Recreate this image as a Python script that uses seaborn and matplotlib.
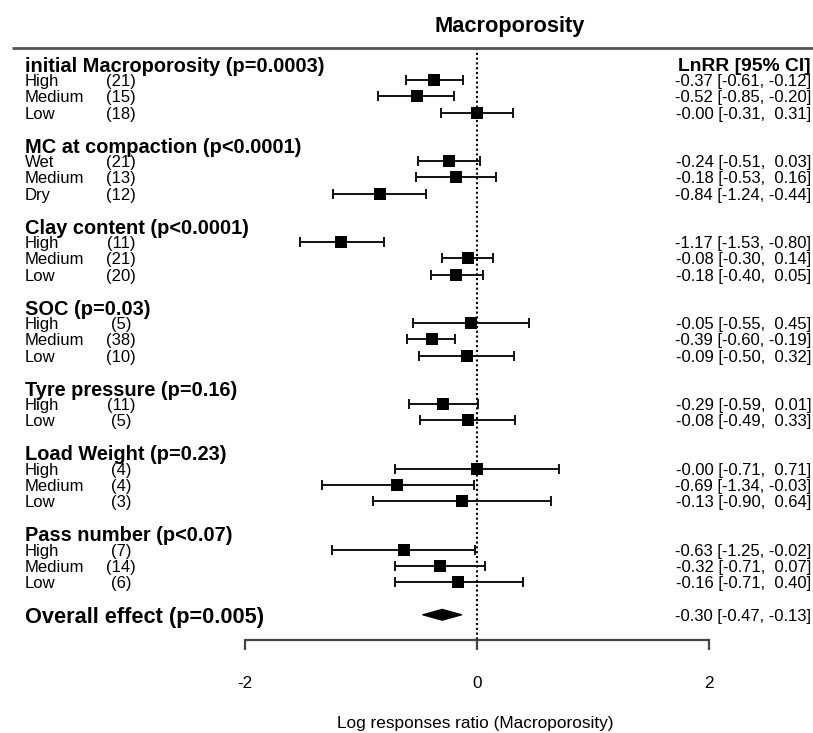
import numpy as np
import pandas as pd
import matplotlib
matplotlib.use("Agg")
import matplotlib.pyplot as plt
import seaborn as sns

# ---- data -------------------------------------------------------------
groups = ["initial Macroporosity", "MC at compaction", "Clay content", "SOC",
          "Tyre pressure", "Load Weight", "Pass number"]
group_p = ["p=0.0003", "p<0.0001", "p<0.0001", "p=0.03", "p=0.16", "p=0.23", "p<0.07"]

levels = [["High", "Medium", "Low"],
          ["Wet", "Medium", "Dry"],
          ["High", "Medium", "Low"],
          ["High", "Medium", "Low"],
          ["High", "Low"],
          ["High", "Medium", "Low"],
          ["High", "Medium", "Low"]]
n_studies = [[21, 15, 18],
             [21, 13, 12],
             [11, 21, 20],
             [5, 38, 10],
             [11, 5],
             [4, 4, 3],
             [7, 14, 6]]
lnrr = [[-0.37, -0.52, -0.0],
        [-0.24, -0.18, -0.84],
        [-1.17, -0.08, -0.18],
        [-0.05, -0.39, -0.09],
        [-0.29, -0.08],
        [-0.0, -0.69, -0.13],
        [-0.63, -0.32, -0.16]]
ci_low = [[-0.61, -0.85, -0.31],
          [-0.51, -0.53, -1.24],
          [-1.53, -0.30, -0.40],
          [-0.55, -0.60, -0.50],
          [-0.59, -0.49],
          [-0.71, -1.34, -0.90],
          [-1.25, -0.71, -0.71]]
ci_high = [[-0.12, -0.20, 0.31],
           [0.03, 0.16, -0.44],
           [-0.80, 0.14, 0.05],
           [0.45, -0.19, 0.32],
           [0.01, 0.33],
           [0.71, -0.03, 0.64],
           [-0.02, 0.07, 0.40]]

overall_est = -0.30
overall_low = -0.47
overall_high = -0.13
overall_p = "p=0.005"

x_ticks = [-2, 0, 2]
x_label = "Log responses ratio (Macroporosity)"
title = "Macroporosity"

# ---- styling ------------------------------------------------------------
sns.set_theme(style="white")
plt.rcParams["font.family"] = ["Liberation Sans", "DejaVu Sans"]
plt.rcParams["axes.unicode_minus"] = False

W, H = 813, 733
PX_PER_UNIT = 116.0   # horizontal pixels per LnRR unit
X0_PX = 477.0         # pixel column of LnRR = 0
ROW_PX = 16.2         # pixels per row
ROW0_PX = 64.0        # pixel row of the first heading


def xpx(px):
    return (px - X0_PX) / PX_PER_UNIT


def ypx(py):
    return (py - ROW0_PX) / ROW_PX


fig = plt.figure(figsize=(W / 100, H / 100), dpi=100)
ax = fig.add_axes([0, 0, 1, 1])
ax.set_xlim(xpx(0), xpx(W))
ax.set_ylim(ypx(H), ypx(0))

# ---- build table of rows ----------------------------------------------
records = []
headings = []
row = 0
for g, p, labs, ns, es, lo, hi in zip(groups, group_p, levels, n_studies,
                                      lnrr, ci_low, ci_high):
    headings.append((row, f"{g} ({p})"))
    for lab, n, e, l, h in zip(labs, ns, es, lo, hi):
        row += 1
        records.append(dict(row=row, level=lab, n=n, est=e, lo=l, hi=h))
    row += 2
overall_row = row
df = pd.DataFrame(records)

text_col = "#000000"
fs_head = 14.4
fs_item = 12.0

# confidence intervals with end caps
ax.errorbar(df["est"], df["row"],
            xerr=[df["est"] - df["lo"], df["hi"] - df["est"]],
            fmt="none", ecolor="#111111", elinewidth=1.4,
            capsize=3.4, capthick=1.4, zorder=2)

# point estimates
sns.scatterplot(data=df, x="est", y="row", marker="s", s=80, color="black",
                linewidth=0, ax=ax, zorder=3, legend=False)

# overall effect diamond
hh = 5.5 / ROW_PX
ax.fill([overall_low, overall_est, overall_high, overall_est],
        [overall_row, overall_row - hh, overall_row, overall_row + hh],
        color="black", lw=0.8, ec="black", zorder=3)

# reference line at zero
axis_row = ypx(640)
top_row = ypx(48)
ax.plot([0, 0], [top_row, axis_row], color="black", ls=(0, (1.0, 1.3)),
        lw=1.5, zorder=1)

# top rule
ax.plot([xpx(12), xpx(813)], [top_row, top_row], color="#555555", lw=2.0,
        solid_capstyle="butt", zorder=1)

# ---- labels -------------------------------------------------------------
x_left = xpx(25)
x_n = xpx(121)
x_right = xpx(811)

for r, txt in headings:
    ax.text(x_left, r, txt, fontsize=fs_head, fontweight="bold",
            ha="left", va="center_baseline", color=text_col)

ax.text(x_right, 0, "LnRR [95% CI]", fontsize=13.9, fontweight="bold",
        ha="right", va="center_baseline", color=text_col)

for _, rec in df.iterrows():
    ax.text(x_left, rec["row"], rec["level"], fontsize=fs_item,
            ha="left", va="center_baseline", color=text_col)
    ax.text(x_n, rec["row"], f"({rec['n']})", fontsize=fs_item,
            ha="center", va="center_baseline", color=text_col)
    ax.text(x_right, rec["row"],
            f"{rec['est']:.2f} [{rec['lo']:5.2f}, {rec['hi']:5.2f}]",
            fontsize=fs_item, ha="right", va="center_baseline", color=text_col)

ax.text(x_left, overall_row, f"Overall effect ({overall_p})", fontsize=15.7,
        fontweight="bold", ha="left", va="center_baseline", color=text_col)
ax.text(x_right, overall_row,
        f"{overall_est:.2f} [{overall_low:5.2f}, {overall_high:5.2f}]",
        fontsize=fs_item, ha="right", va="center_baseline", color=text_col)

ax.text(xpx(510), ypx(24), title, fontsize=15.7, fontweight="bold",
        ha="center", va="center_baseline", color=text_col)
ax.text(xpx(475), ypx(722), x_label, fontsize=12.4,
        ha="center", va="center_baseline", color=text_col)

# ---- x axis -------------------------------------------------------------
for side in ["top", "left", "right"]:
    ax.spines[side].set_visible(False)
ax.spines["bottom"].set_position(("data", axis_row))
ax.spines["bottom"].set_bounds(x_ticks[0], x_ticks[-1])
ax.spines["bottom"].set_color("#444444")
ax.spines["bottom"].set_linewidth(1.6)
ax.set_xticks(x_ticks)
ax.set_xticklabels([str(t) for t in x_ticks])
ax.tick_params(axis="x", bottom=True, direction="out", length=7.2, width=1.6,
               color="#444444", pad=19, labelsize=12.3, labelcolor=text_col)
ax.set_yticks([])
ax.set_xlabel("")
ax.set_ylabel("")

fig.savefig("out.png", dpi=100)
